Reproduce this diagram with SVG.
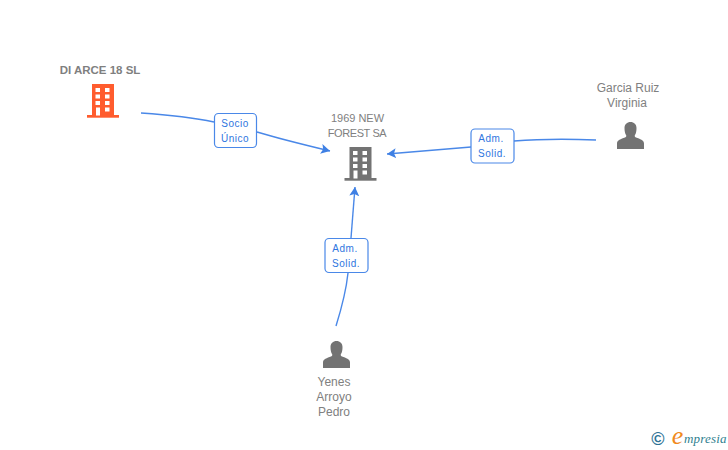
<svg xmlns="http://www.w3.org/2000/svg" width="728" height="450" viewBox="0 0 728 450">
<style>
text{font-family:"Liberation Sans",Arial,sans-serif;text-anchor:middle}
.n{font-size:12px;fill:#808080}
.b{font-size:11.500px;font-weight:bold;fill:#7f7f7f}
.l{font-size:10px;fill:#2f76e0;letter-spacing:.5px}
.c{fill:none;stroke:#4a88e8;stroke-width:1.4}
.box{fill:#fff;stroke:#4a88e8;stroke-width:1.2}
.win{fill:#fff}
</style>
<defs>
<marker id="a" markerUnits="userSpaceOnUse" markerWidth="11" markerHeight="11" refX="9" refY="5" orient="auto"><path d="M0 0L9 5L0 10L2 5Z" fill="#3f80e4"/></marker>
<g id="bld">
<rect x="5" y="0" width="22" height="32"/><rect x="0" y="31" width="32" height="2.700"/>
<g class="win"><rect x="8.500" y="4" width="4.500" height="4"/><rect x="18" y="4" width="4.500" height="4"/><rect x="8.500" y="10.500" width="4.500" height="4"/><rect x="18" y="10.500" width="4.500" height="4"/><rect x="8.500" y="17" width="4.500" height="4"/><rect x="18" y="17" width="4.500" height="4"/><rect x="9" y="23.500" width="4" height="8"/><rect x="18" y="23.500" width="4.500" height="4"/></g>
</g>
<path id="per" d="M0 27V21.500C0 18 4 17 8 15.500C9.500 15 9.500 13.500 9 13C8 11.500 7.500 9 7.500 6C7.500 2.500 10 0 13.500 0S19.500 2.500 19.500 6C19.500 9 19 11.500 18 13C17.500 13.500 17.500 15 19 15.500C23 17 27 18 27 21.500V27Z"/>
</defs>
<g id="connectors">
<path class="c" d="M141 113C170 115 195 118 214 122"/>
<path class="c" d="M257 132C280 139 305 145 330 151" marker-end="url(#a)"/>
<path class="c" d="M471 147L387 154" marker-end="url(#a)"/>
<path class="c" d="M514 141C540 139 570 139 596 140"/>
<path class="c" d="M351 238L355 187" marker-end="url(#a)"/>
<path class="c" d="M348 273C346 292 341 310 336 326"/>
</g>
<g id="node-diarce"><text class="b" x="100" y="74">DI ARCE 18 SL</text><use href="#bld" x="87" y="84" fill="#ff5c2e"/></g>
<g id="node-forest"><text class="n" x="357.500" y="122" style="font-size:11px">1969 NEW</text><text class="n" x="357" y="137" style="font-size:11px;letter-spacing:-.4px">FOREST SA</text><use href="#bld" x="344.500" y="147" fill="#737373"/></g>
<g id="node-garcia"><text class="n" x="628" y="92">Garcia Ruiz</text><text class="n" x="627" y="107">Virginia</text><use href="#per" x="617" y="122" fill="#737373"/></g>
<g id="node-yenes"><use href="#per" x="323" y="341" fill="#737373"/><text class="n" x="334" y="386">Yenes</text><text class="n" x="334" y="401">Arroyo</text><text class="n" x="334" y="416">Pedro</text></g>
<g id="label-socio"><rect class="box" x="214.500" y="113.500" width="42" height="34" rx="4"/><text class="l" x="235" y="127">Socio</text><text class="l" x="235" y="142">Único</text></g>
<g id="label-adm1"><rect class="box" x="471" y="129" width="43" height="34" rx="4"/><text class="l" x="491" y="142">Adm.</text><text class="l" x="492" y="157">Solid.</text></g>
<g id="label-adm2"><rect class="box" x="325" y="238.500" width="43" height="34" rx="4"/><text class="l" x="345" y="252">Adm.</text><text class="l" x="346" y="267">Solid.</text></g>
<g id="logo"><text x="658" y="445" style="font-size:18px;fill:#2f7396;font-weight:bold">©</text>
<text x="677.500" y="444" style="font-family:'Liberation Serif',serif;font-size:26px;font-style:italic;fill:#f08a1d">e</text><text x="684" y="443" style="font-family:'Liberation Serif',serif;font-size:13px;font-style:italic;fill:#2f7f8f;letter-spacing:.2px;text-anchor:start">mpresia</text></g>
</svg>
